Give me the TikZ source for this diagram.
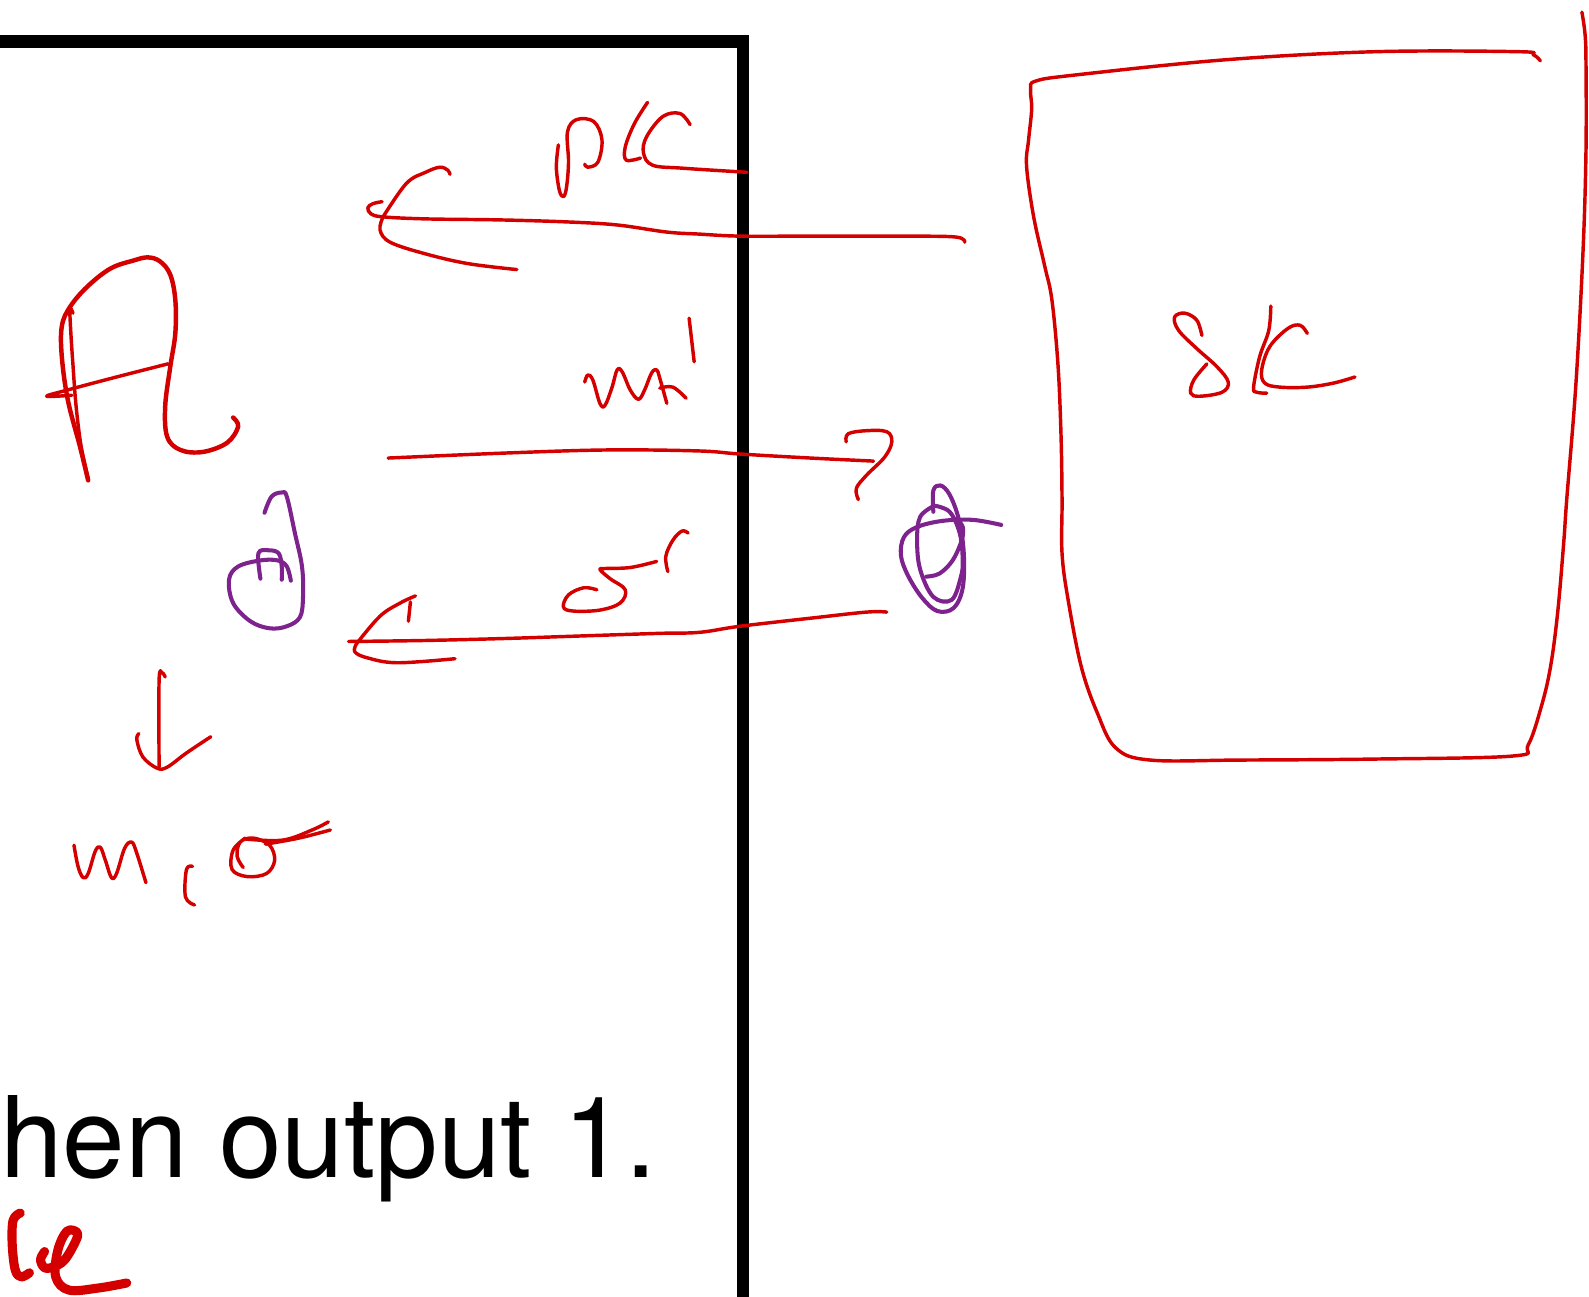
\documentclass[tikz,border=0pt]{standalone}
\usepackage{fontspec}
\setmainfont{TeX Gyre Heros}
\definecolor{inkred}{RGB}{212,0,0}
\definecolor{inkpurple}{RGB}{126,34,142}
\begin{document}
\begin{tikzpicture}[x=0.5pt,y=-0.5pt,
  ink/.style={draw=inkred, line width=1.7pt, line cap=round, line join=round},
  thickink/.style={draw=inkred, line width=2.2pt, line cap=round, line join=round},
  heavyink/.style={draw=inkred, line width=4.5pt, line cap=round, line join=round},
  pink/.style={draw=inkpurple, line width=2pt, line cap=round, line join=round},
  frame/.style={draw=black, line width=6pt, line join=miter},
  sm/.style={smooth, tension=0.6}]
\useasboundingbox (0,0) rectangle (1568,1279);
% black frame
\draw[frame] (-20,41) -- (733,41) -- (733,1300);
% typed text
\node[anchor=base west, inner sep=0pt, font=\fontsize{55.5pt}{60pt}\selectfont] (txt) at (0,1162) {hen output 1.};
% letter A
\draw[thickink] plot[sm] coordinates {(87,474)(79,441)(67,395)(61,352)(61,322)(69,303)(86,283)(109,265)(132,257)(146,254)(158,258)(168,271)(173,296)(173,329)(168,362)(163,401)(165,431)(178,444)(200,446)(224,437)(235,421)(230,412)};
\draw[ink] plot[sm] coordinates {(72,309)(69,305)(70,330)(72,360)(75,400)(80,440)(87,472)};
\draw[ink] plot[sm] coordinates {(71,390)(46,391)(66,385)(115,372)(166,359)};
% pk
\draw[ink] plot[sm] coordinates {(551,143)(549,165)(552,188)(556,194)(559,185)(561,160)(560,130)(569,118)(586,120)(594,138)(590,160)(580,165)(577,162)};
\draw[ink] plot[sm] coordinates {(639,101)(626,122)(617,145)(618,158)(632,156)};
\draw[ink] plot[sm] coordinates {(681,123)(671,112)(654,115)(638,135)(635,151)(644,163)(674,166)(737,170)};
% pk arrow (leftward)
\draw[ink] plot[sm] coordinates {(952,239)(944,234)(900,233)(800,233)(730,233)(690,231)(658,229)(609,222)(560,219)(493,217)(420,216)(378,214)(366,211)(363,205)(368,201)(377,199)};
\draw[ink] plot[sm] coordinates {(378,214)(401,181)(420,170)(434,165)(442,168)(444,172)};
\draw[ink] plot[sm] coordinates {(378,214)(375,227)(385,239)(418,250)(461,260)(510,266)};
% m'
\draw[ink] plot[sm] coordinates {(577,377)(580,370)(585,375)(592,398)(597,400)(604,382)(609,365)(614,367)(622,385)(630,394)(636,385)(643,368)(648,365)(651,373)(658,398)};
\draw[ink] plot[sm] coordinates {(651,383)(664,382)(677,393)};
\draw[ink] (680,314) -- (685,357);
% m' arrow (rightward)
\draw[ink] plot[sm] coordinates {(383,452)(500,447)(600,444)(690,445)(730,448)(800,452)(862,455)};
\draw[ink] plot[sm] coordinates {(835,436)(837,428)(855,425)(875,426)(880,436)(873,451)(855,469)(845,482)(847,493)};
% left purple partial
\draw[pink] plot[sm] coordinates {(261,506)(268,490)(278,486)(283,490)(291,526)(298,559)(299,589)(296,609)(283,618)(266,620)(247,613)(230,595)(226,572)(235,559)(257,553)(274,553)(283,559)(287,573)};
\draw[pink] plot[sm] coordinates {(257,571)(255,546)(265,543)(275,546)(278,559)(278,572)};
% right purple scribble
\draw[pink] plot[sm] coordinates {(988,518)(960,513)(930,514)(905,520)(892,530)(889,548)(896,568)(910,590)(925,603)(941,600)(950,580)(951,545)(946,512)(937,488)(928,479)(921,484)(921,505)};
\draw[pink] plot[sm] coordinates {(922,499)(908,510)(905,533)(908,562)(921,589)(939,592)(948,570)(950,553)(947,526)(937,505)(922,499)};
\draw[pink] plot[sm] coordinates {(914,569)(927,566)(940,553)(949,533)(950,520)(944,512)};
% sigma'
\draw[ink] plot[sm] coordinates {(589,582)(576,580)(561,587)(556,599)(566,603)(592,602)(612,595)(617,582)(602,571)(592,562)(597,561)(622,560)(648,554)};
\draw[ink] plot[sm] coordinates {(659,564)(657,549)(664,533)(673,524)(679,526)};
% sigma' arrow (leftward)
\draw[ink] plot[sm] coordinates {(875,604)(855,604)(800,610)(730,618)(690,624)(650,625)(560,628)(500,630)(420,632)(344,633)};
\draw[ink] plot[sm] coordinates {(352,635)(375,608)(395,595)(410,588)};
\draw[ink] (405,594) -- (403,613);
\draw[ink] plot[sm] coordinates {(352,635)(350,643)(362,649)(392,654)(449,650)};
% down arrow
\draw[ink] plot[sm] coordinates {(163,668)(160,664)(157,671)(157,757)};
\draw[ink] plot[sm] coordinates {(137,724)(135,730)(141,747)(155,758)(165,757)(184,743)(208,727)};
% m1 sigma
\draw[ink] plot[sm] coordinates {(73,834)(77,855)(82,866)(87,862)(94,840)(99,836)(104,849)(110,866)(115,862)(123,837)(130,831)(135,842)(144,871)};
\draw[ink] plot[sm] coordinates {(190,855)(184,858)(183,885)(192,893)};
\draw[ink] plot[sm] coordinates {(242,827)(230,839)(229,858)(244,865)(263,862)(271,849)(266,834)(250,827)(237,831)(234,845)(240,856)};
\draw[ink] plot[sm] coordinates {(243,828)(279,829)(308,819)(324,811)};
\draw[ink] plot[sm] coordinates {(262,833)(295,827)(326,819)};
% big box
\draw[ink] plot[sm] coordinates {(1520,60)(1513,54)(1498,51)(1358,51)(1209,59)(1061,74)(1022,80)(1017,88)(1018,108)(1015,138)(1013,164)(1020,214)(1031,263)(1038,296)(1044,360)(1047,430)(1048,493)(1048,546)(1054,592)(1067,658)(1083,704)(1101,738)(1135,750)(1224,750)(1358,749)(1493,746)(1508,735)(1521,697)(1530,658)(1537,605)(1543,536)(1546,493)(1555,380)(1562,250)(1565,150)(1565,60)(1564,33)(1561,12)};
% delta k
\draw[ink] plot[sm] coordinates {(1186,331)(1181,316)(1169,309)(1159,313)(1163,326)(1181,344)(1201,362)(1212,377)(1206,387)(1184,391)(1175,388)(1178,375)(1191,359)};
\draw[ink] plot[sm] coordinates {(1254,302)(1252,326)(1243,352)(1237,382)(1240,387)(1250,388)};
\draw[ink] plot[sm] coordinates {(1290,329)(1283,321)(1271,324)(1253,342)(1245,365)(1248,378)(1263,382)(1290,382)(1316,378)(1337,372)};
% red mark bottom left
\draw[heavyink] plot[sm] coordinates {(20,1197)(13,1204)(12,1227)(15,1253)(21,1260)(29,1256)};
\draw[heavyink] plot[sm] coordinates {(44,1235)(40,1243)(44,1251)(53,1250)(64,1243)(75,1224)(76,1216)(66,1215)(57,1234)(55,1260)(68,1273)(97,1271)(125,1266)};
\end{tikzpicture}
\end{document}
